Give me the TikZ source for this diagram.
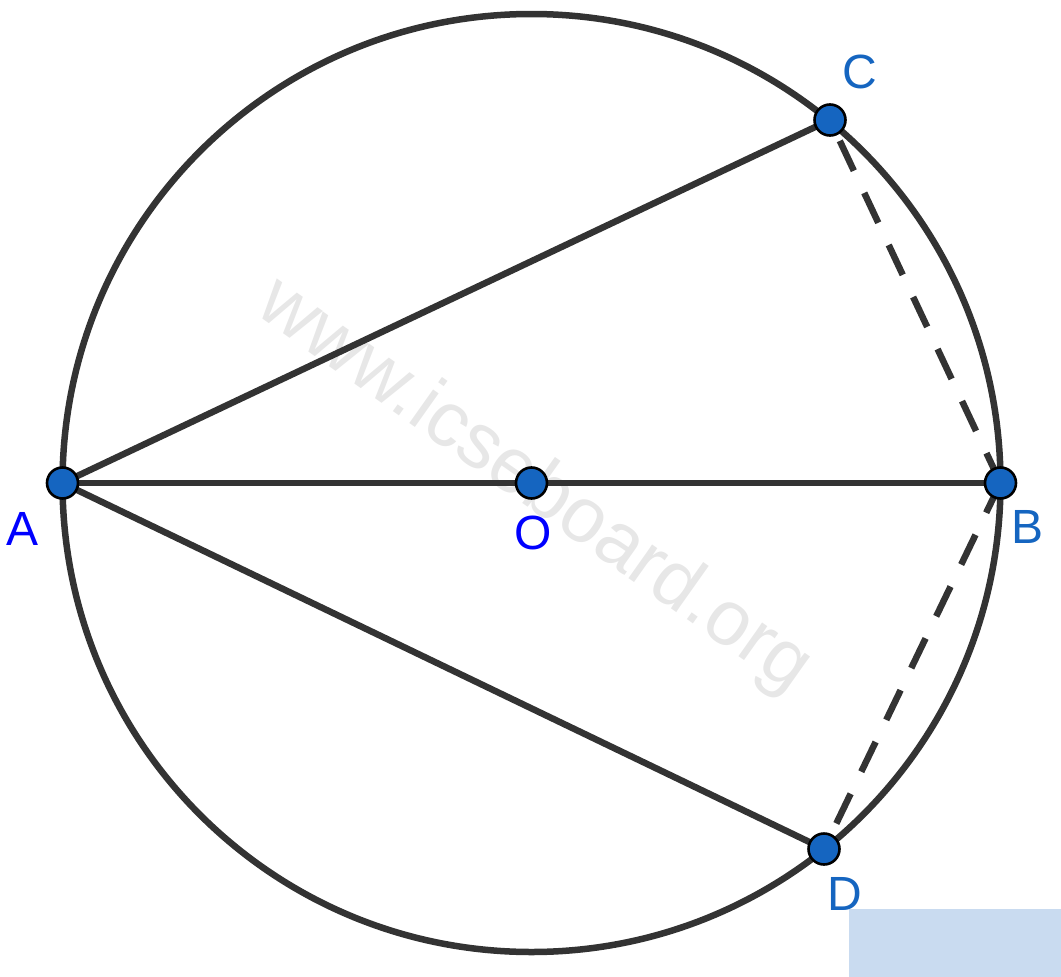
\documentclass[tikz,border=0pt]{standalone}
\usepackage{fontspec}
\setmainfont{Liberation Sans}
\definecolor{ink}{RGB}{51,51,51}
\definecolor{ptblue}{RGB}{21,101,192}
\definecolor{lblblue}{RGB}{21,101,192}
\definecolor{pureblue}{RGB}{0,0,255}
\definecolor{wmark}{RGB}{231,231,231}
\definecolor{boxblue}{RGB}{201,219,240}
\begin{document}
\begin{tikzpicture}[x=1pt,y=-1pt,
  seg/.style={draw=ink,line width=6.5pt},
  dashseg/.style={draw=ink,line width=6.5pt,dash pattern=on 33pt off 24.5pt},
  pt/.style={circle,fill=ptblue,draw=black,line width=2.6pt,minimum size=31pt,inner sep=0pt},
  lbl/.style={font=\fontsize{48}{58}\selectfont,anchor=base,inner sep=0pt}]
\useasboundingbox (0,0) rectangle (1061,977);
\fill[boxblue] (849,909) rectangle (1061,977);
\node[font=\fontsize{78}{94}\selectfont,text=wmark,rotate=-35.3,anchor=base,inner sep=0pt] (wm) at (522,503) {www.icseboard.org};
\coordinate (O) at (531.5,483);
\coordinate (A) at (62.5,483);
\coordinate (B) at (1000.5,483);
\coordinate (C) at (830,120);
\coordinate (D) at (824,849);
\draw[seg] (O) circle[radius=469];
\draw[seg] (A) -- (C);
\draw[seg] (A) -- (D);
\draw[seg] (A) -- (B);
\draw[dashseg] (B) -- (C);
\draw[dashseg] (B) -- (D);
\node[pt] (pA) at (A) {};
\node[pt] (pO) at (O) {};
\node[pt] (pB) at (B) {};
\node[pt] (pC) at (C) {};
\node[pt] (pD) at (D) {};
\node[lbl,text=pureblue] (lA) at (23,545) {A};
\node[lbl,text=pureblue] (lO) at (533,549) {O};
\node[lbl,text=lblblue] (lB) at (1027,543) {B};
\node[lbl,text=lblblue] (lC) at (860,88) {C};
\node[lbl,text=lblblue] (lD) at (845,910) {D};
\end{tikzpicture}
\end{document}
